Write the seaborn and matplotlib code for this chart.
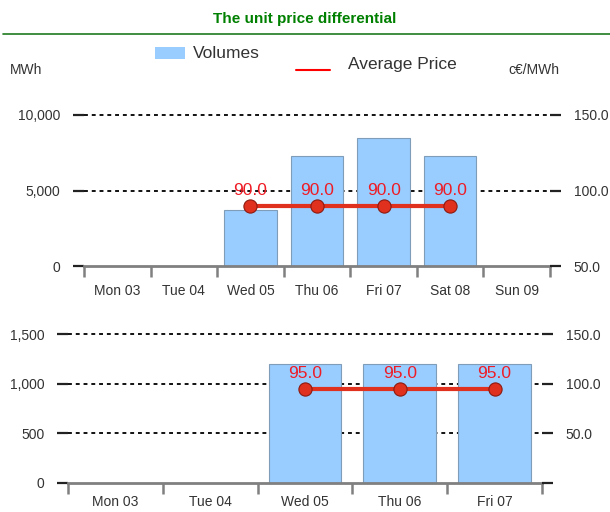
import numpy as np
import pandas as pd
import matplotlib
matplotlib.use('Agg')
import matplotlib.pyplot as plt
import seaborn as sns
from matplotlib.lines import Line2D
from matplotlib.patches import Rectangle

# Week panel 1 (top)
days_top = ['Mon 03', 'Tue 04', 'Wed 05', 'Thu 06', 'Fri 07', 'Sat 08', 'Sun 09']
volumes_top = [np.nan, np.nan, 3700, 7300, 8500, 7300, np.nan]
prices_top = [np.nan, np.nan, 90.0, 90.0, 90.0, 90.0, np.nan]
vol_ticks_top = [0, 5000, 10000]
price_ticks_top = [50, 100, 150]
price_labels_top = ['50.0', '100.0', '150.0']

# Week panel 2 (bottom)
days_bottom = ['Mon 03', 'Tue 04', 'Wed 05', 'Thu 06', 'Fri 07']
volumes_bottom = [np.nan, np.nan, 1200, 1200, 1200]
prices_bottom = [np.nan, np.nan, 95.0, 95.0, 95.0]
vol_ticks_bottom = [0, 500, 1000, 1500]
price_ticks_bottom = [0, 50, 100, 150]
price_labels_bottom = ['', '50.0', '100.0', '150.0']

BAR_COLOR = '#99ccff'
BAR_EDGE = '#7f9cb8'
LINE_COLOR = '#e0301e'
LABEL_COLOR = '#ee1c25'
TEXT_COLOR = '#333333'
AXIS_GRAY = '#808080'

W, H = 610, 512

sns.set_theme(style='white')
plt.rcParams['font.family'] = ['Liberation Sans', 'DejaVu Sans']


def px_rect(x0, x1, y_top, y_bottom):
    """Axes rect in figure fractions from pixel edges."""
    return [x0 / W, 1 - y_bottom / H, (x1 - x0) / W, (y_bottom - y_top) / H]


def draw_panel(fig, rect, days, volumes, prices, vol_ticks, price_ticks,
               price_labels, bar_width, label_pad):
    ax = fig.add_axes(rect)
    df = pd.DataFrame({'day': days, 'volume': volumes, 'price': prices})

    sns.barplot(data=df, x='day', y='volume', order=days, color=BAR_COLOR,
                saturation=1, edgecolor=BAR_EDGE, linewidth=0.8,
                width=bar_width, errorbar=None, ax=ax)

    n = len(days)
    ax.set_xlim(-0.5, n - 0.5)
    ax.set_ylim(vol_ticks[0], vol_ticks[-1])
    ax.set_yticks(vol_ticks)
    ax.set_yticklabels([f'{v:,.0f}' for v in vol_ticks])
    ax.set_xlabel('')
    ax.set_ylabel('')

    ax.grid(axis='y', color='#111111', linestyle=(0, (2, 2)), linewidth=1.4)
    ax.grid(axis='x', visible=False)
    ax.set_axisbelow(True)
    gridlines = ax.get_ygridlines()
    for gl in gridlines:
        gl.set_clip_on(False)
    gridlines[0].set_visible(False)  # the gray axis line takes its place

    for side in ['left', 'right', 'top']:
        ax.spines[side].set_visible(False)
    ax.spines['bottom'].set_color(AXIS_GRAY)
    ax.spines['bottom'].set_linewidth(2)

    # category separators as minor ticks
    ax.set_xticks(np.arange(-0.5, n), minor=True)
    ax.tick_params(axis='x', which='major', length=0, pad=label_pad,
                   labelsize=10, labelcolor=TEXT_COLOR)
    ax.tick_params(axis='x', which='minor', length=8, width=1.8,
                   color=AXIS_GRAY, direction='out', bottom=True)
    ax.tick_params(axis='y', which='major', length=8, width=1.6,
                   color='#222222', direction='out', left=True, pad=9,
                   labelsize=10, labelcolor=TEXT_COLOR)

    ax2 = ax.twinx()
    sns.pointplot(data=df, x='day', y='price', order=days, color=LINE_COLOR,
                  errorbar=None, linewidth=3, markersize=9.5,
                  markeredgecolor='#8c1a10', markeredgewidth=0.8, ax=ax2)
    ax2.set_xlim(-0.5, n - 0.5)
    ax2.set_ylim(price_ticks[0], price_ticks[-1])
    ax2.set_yticks(price_ticks)
    ax2.set_yticklabels(price_labels)
    ax2.set_ylabel('')
    ax2.set_xlabel('')
    ax2.grid(False)
    for side in ['left', 'right', 'top', 'bottom']:
        ax2.spines[side].set_visible(False)
    ax2.tick_params(axis='y', which='major', length=8, width=1.6,
                    color='#222222', direction='out', right=True, pad=9,
                    labelsize=10, labelcolor=TEXT_COLOR)

    for i, p in enumerate(prices):
        if not np.isnan(p):
            ax2.annotate(f'{p:.1f}', (i, p), xytext=(0, 7.5),
                         textcoords='offset points', ha='center',
                         va='baseline', color=LABEL_COLOR, fontsize=12.5)
    return ax, ax2


fig = plt.figure(figsize=(W / 100, H / 100), dpi=100)

draw_panel(fig, px_rect(84, 550, 115, 266), days_top, volumes_top,
           prices_top, vol_ticks_top, price_ticks_top, price_labels_top,
           0.79, 13)
draw_panel(fig, px_rect(68, 542, 334, 483), days_bottom, volumes_bottom,
           prices_bottom, vol_ticks_bottom, price_ticks_bottom,
           price_labels_bottom, 0.77, 9)

# Title and rule
fig.text(0.5, 1 - 19 / H, 'The unit price differential', ha='center',
         va='center', fontsize=11, fontweight='bold', color='#008000')
fig.add_artist(Line2D([3 / W, 1.0], [1 - 34 / H] * 2, color='#1f7a1f',
                      linewidth=1.2, transform=fig.transFigure))

# Legend (staggered, as in the original)
fig.add_artist(Rectangle((155 / W, 1 - 59 / H), 30 / W, 12 / H,
                         facecolor=BAR_COLOR, edgecolor='none',
                         transform=fig.transFigure))
fig.text(193 / W, 1 - 54 / H, 'Volumes', ha='left', va='center',
         fontsize=12.5, color=TEXT_COLOR)
fig.add_artist(Line2D([296 / W, 330 / W], [1 - 70 / H] * 2, color='#ff0000',
                      linewidth=1.5, transform=fig.transFigure))
fig.text(348 / W, 1 - 65 / H, 'Average Price', ha='left', va='center',
         fontsize=12.5, color=TEXT_COLOR)

# Axis units
fig.text(10 / W, 1 - 70 / H, 'MWh', ha='left', va='center', fontsize=10,
         color=TEXT_COLOR)
fig.text(508 / W, 1 - 70 / H, 'c€/MWh', ha='left', va='center', fontsize=10,
         color=TEXT_COLOR)

fig.savefig('out.png', dpi=100)
plt.close(fig)
